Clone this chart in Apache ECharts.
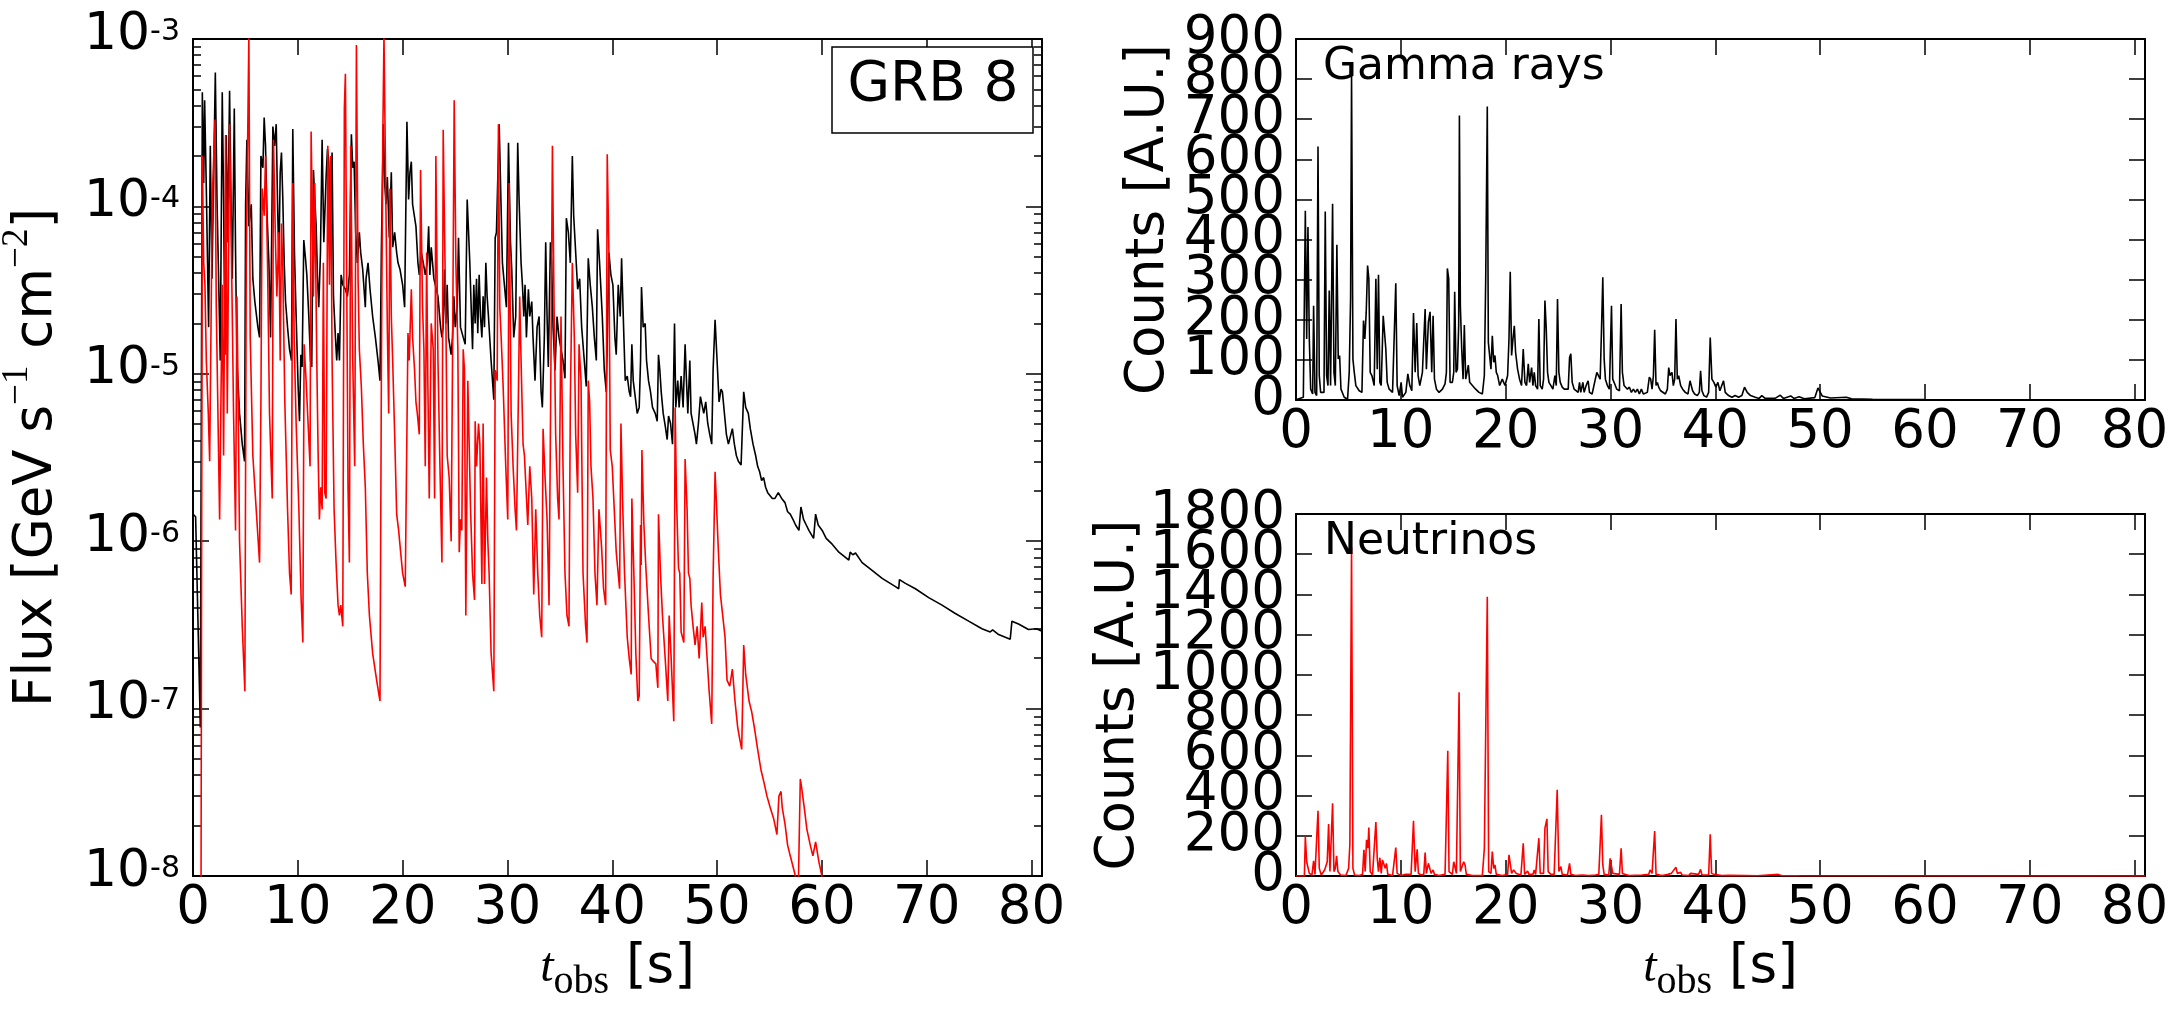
<!DOCTYPE html>
<html>
<head>
<meta charset="utf-8">
<script src="https://cdn.jsdelivr.net/npm/echarts@6/dist/echarts.min.js"></script>
<style>
html, body { margin: 0; padding: 0; background: #fff; }
#main { width: 2181px; height: 1011px; }
</style>
</head>
<body>
<div id="main"></div>
<script>
// flux light curves [t_obs (s), flux (GeV s^-1 cm^-2)]
var fluxGamma = [[0,1.45e-6],[0.25,1.4e-6],[0.70,7.7e-8],[0.89,4.8e-4],[1.02,1.38e-4],[1.11,4.3e-4],[1.27,1.28e-4],[1.49,1.9e-5],[1.65,2.3e-4],[1.81,3.7e-5],[2.13,6.3e-4],[2.29,1.1e-4],[2.48,2.9e-5],[2.60,1.2e-5],[2.79,4.8e-4],[2.92,1.1e-4],[3.05,1.3e-5],[3.17,2.67e-4],[3.30,6.1e-5],[3.49,4.9e-4],[3.62,1.1e-4],[3.75,3.7e-5],[3.94,3.85e-4],[4.06,5.3e-5],[4.19,1.2e-5],[4.44,5.8e-6],[4.70,3.8e-6],[4.92,3.0e-6],[5.02,1.03e-4],[5.14,2.5e-4],[5.33,7.6e-5],[5.56,1.03e-4],[5.71,3.7e-5],[5.90,2.7e-5],[6.19,1.9e-5],[6.35,1.65e-5],[6.48,2.0e-4],[6.67,1.7e-4],[6.79,3.4e-4],[6.92,2.3e-4],[7.05,9.5e-5],[7.24,4.6e-5],[7.40,1.65e-5],[7.62,3.0e-4],[7.78,2.3e-4],[7.94,3.1e-4],[8.06,1.1e-4],[8.19,4.6e-5],[8.32,1.6e-4],[8.44,2.1e-4],[8.57,1.1e-4],[8.70,4.6e-5],[8.83,2.7e-5],[9.02,1.9e-5],[9.21,1.4e-5],[9.40,1.2e-5],[9.52,2.9e-4],[9.68,5.3e-5],[9.84,2.2e-5],[10.03,8.4e-6],[10.16,5.2e-6],[10.29,1.3e-5],[10.41,1.1e-5],[10.57,6.3e-5],[10.73,4.9e-5],[10.86,3.9e-5],[11.05,2.2e-5],[11.21,1.2e-5],[11.33,1.1e-5],[11.49,1.65e-4],[11.62,1.1e-4],[11.75,7.6e-5],[11.87,3.9e-5],[12.00,2.5e-5],[12.16,5.3e-5],[12.32,2.5e-4],[12.48,6.1e-5],[12.70,1.5e-4],[12.83,2.2e-4],[12.95,1.85e-4],[13.11,7.0e-5],[13.27,2.1e-4],[13.40,2.9e-5],[13.59,1.65e-5],[13.71,1.2e-5],[13.84,1.75e-5],[13.97,1.2e-5],[14.13,3.9e-5],[14.29,3.4e-5],[14.54,3.2e-5],[14.73,2.9e-5],[14.92,3.9e-5],[15.11,2.7e-4],[15.24,1.7e-4],[15.37,1.85e-4],[15.52,7.0e-5],[15.68,4.6e-5],[15.87,7.0e-5],[16.00,5.3e-5],[16.19,4.2e-5],[16.44,2.5e-5],[16.51,3.7e-5],[16.70,4.6e-5],[16.89,3.2e-5],[17.14,2.2e-5],[17.40,1.65e-5],[17.65,1.2e-5],[17.84,9.1e-6],[17.97,5.3e-5],[18.16,3.1e-4],[18.29,1.38e-4],[18.41,1.03e-4],[18.54,1.5e-4],[18.73,6.5e-5],[18.92,1.6e-4],[19.05,5.7e-5],[19.24,7.0e-5],[19.43,5.3e-5],[19.56,4.6e-5],[19.75,4.2e-5],[20.00,3.4e-5],[20.19,2.5e-5],[20.41,3.2e-4],[20.57,1.1e-4],[20.70,1.6e-4],[20.83,1.85e-4],[20.95,1.03e-4],[21.27,7.6e-5],[21.46,4.6e-5],[21.59,3.9e-5],[21.78,5.3e-5],[21.97,4.6e-5],[22.16,3.9e-5],[22.35,4.6e-5],[22.48,7.6e-5],[22.60,3.9e-5],[22.73,5.7e-5],[22.98,3.7e-5],[23.37,2.9e-5],[23.62,1.9e-5],[23.75,1.65e-5],[23.87,1.9e-5],[24.00,4.2e-5],[24.13,2.0e-5],[24.25,3.4e-5],[24.38,1.65e-5],[24.63,1.3e-5],[24.76,1.65e-5],[24.89,2.9e-5],[25.02,1.9e-5],[25.21,2.5e-5],[25.33,6.5e-5],[25.52,1.9e-5],[25.78,1.65e-5],[25.97,1.5e-5],[26.16,1.1e-4],[26.29,7.0e-5],[26.41,4.6e-5],[26.54,2.5e-5],[26.67,1.4e-5],[26.79,3.4e-5],[26.92,2.0e-5],[27.05,3.7e-5],[27.17,1.75e-5],[27.30,3.9e-5],[27.43,2.2e-5],[27.56,1.65e-5],[27.68,2.9e-5],[27.81,1.9e-5],[27.94,4.6e-5],[28.06,2.9e-5],[28.19,2.2e-5],[28.44,1.2e-5],[28.70,7.0e-6],[28.83,6.5e-5],[28.95,7.0e-5],[29.21,3.1e-4],[29.40,9.5e-5],[29.52,4.6e-5],[29.71,3.4e-5],[29.90,2.5e-5],[30.10,2.4e-4],[30.29,6.1e-5],[30.41,4.2e-5],[30.60,1.65e-5],[30.79,2.2e-5],[30.98,2.4e-4],[31.11,1.1e-4],[31.30,4.6e-5],[31.43,3.4e-5],[31.56,2.2e-5],[31.68,3.4e-5],[31.81,1.65e-5],[32.00,3.2e-5],[32.13,2.2e-5],[32.32,2.7e-5],[32.44,1.65e-5],[32.63,9.1e-6],[32.83,1.9e-5],[33.02,2.2e-5],[33.21,7.8e-6],[33.33,6.3e-6],[33.52,1.65e-5],[33.65,6.1e-5],[33.78,2.2e-5],[33.90,1.1e-5],[34.10,6.1e-5],[34.22,4.6e-5],[34.35,1.9e-5],[34.54,1.05e-5],[34.73,2.2e-5],[34.92,1.65e-5],[35.30,1.2e-5],[35.49,9.4e-6],[35.62,8.5e-5],[35.81,7.0e-5],[36.00,4.6e-5],[36.19,2.0e-4],[36.32,8.8e-5],[36.51,5.3e-5],[36.70,3.2e-5],[36.89,3.7e-5],[37.08,1.9e-5],[37.33,1.2e-5],[37.52,8.4e-6],[37.71,4.9e-5],[37.90,3.4e-5],[38.10,2.5e-5],[38.29,1.65e-5],[38.48,1.2e-5],[38.60,7.3e-5],[38.79,4.6e-5],[39.05,2.2e-5],[39.24,1.05e-5],[39.43,7.8e-6],[39.68,5.3e-5],[39.87,3.9e-5],[40.06,3.4e-5],[40.25,1.65e-5],[40.38,1.3e-5],[40.57,3.4e-5],[40.76,2.2e-5],[40.89,4.9e-5],[41.11,1.65e-5],[41.24,9.1e-6],[41.43,9.7e-6],[41.62,7.8e-6],[41.75,7.3e-6],[41.87,1.5e-5],[42.00,9.1e-6],[42.19,7.3e-6],[42.38,5.8e-6],[42.57,6.3e-6],[42.70,1.2e-5],[42.79,3.3e-5],[42.95,1.9e-5],[43.14,2.0e-5],[43.27,1.2e-5],[43.46,9.1e-6],[43.65,7.8e-6],[43.84,6.3e-6],[44.10,5.8e-6],[44.29,5.2e-6],[44.41,1.3e-5],[44.54,1.05e-5],[44.67,7.8e-6],[44.86,5.8e-6],[45.05,4.9e-6],[45.24,4.05e-6],[45.37,5.6e-6],[45.56,5.05e-6],[45.75,3.8e-6],[45.94,2.0e-5],[46.06,6.3e-6],[46.25,9.1e-6],[46.38,6.3e-6],[46.57,9.7e-6],[46.76,6.3e-6],[46.95,1.5e-5],[47.08,9.1e-6],[47.21,5.8e-6],[47.40,1.2e-5],[47.52,5.8e-6],[47.71,5.8e-6],[47.90,4.35e-6],[48.03,3.8e-6],[48.22,5.05e-6],[48.41,7.3e-6],[48.60,7.3e-6],[48.73,5.8e-6],[48.92,6.8e-6],[49.11,5.05e-6],[49.30,4.35e-6],[49.49,3.8e-6],[49.62,1.05e-5],[49.81,2.1e-5],[50.00,1.2e-5],[50.19,6.8e-6],[50.38,8.1e-6],[50.51,7.8e-6],[50.70,5.8e-6],[50.89,4.35e-6],[51.08,3.8e-6],[51.27,3.8e-6],[51.46,4.7e-6],[51.65,3.8e-6],[51.84,3.25e-6],[52.03,3.0e-6],[52.29,2.85e-6],[52.54,7.8e-6],[52.73,6.3e-6],[52.98,5.8e-6],[53.17,4.7e-6],[53.43,3.8e-6],[53.68,3.25e-6],[53.87,2.8e-6],[54.06,2.6e-6],[54.25,2.3e-6],[54.44,2.4e-6],[54.63,2.1e-6],[54.83,1.95e-6],[55.02,1.95e-6],[55.27,1.8e-6],[55.52,1.8e-6],[55.84,1.95e-6],[55.97,2.0e-6],[56.16,1.8e-6],[56.48,1.7e-6],[56.73,1.5e-6],[56.98,1.45e-6],[57.24,1.35e-6],[57.49,1.25e-6],[57.81,1.16e-6],[58.00,1.6e-6],[58.25,1.35e-6],[58.51,1.25e-6],[58.76,1.16e-6],[59.21,1.04e-6],[59.40,1.45e-6],[59.65,1.25e-6],[60.03,1.16e-6],[60.41,1.04e-6],[60.98,9.6e-7],[61.62,8.6e-7],[62.25,8.0e-7],[62.57,7.7e-7],[62.70,8.6e-7],[62.95,8.3e-7],[63.21,8.5e-7],[63.84,7.45e-7],[64.79,6.7e-7],[65.75,6.0e-7],[67.02,5.35e-7],[67.33,5.2e-7],[67.40,5.9e-7],[67.97,5.6e-7],[68.92,5.2e-7],[70.19,4.6e-7],[71.46,4.15e-7],[72.73,3.7e-7],[74.00,3.33e-7],[75.27,3.0e-7],[76.06,2.87e-7],[76.29,2.95e-7],[76.86,2.77e-7],[77.97,2.6e-7],[78.13,3.33e-7],[78.76,3.2e-7],[79.71,2.97e-7],[80.48,3.0e-7],[81.00,2.9e-7]];

var fluxNeutrino = [[0,1e-9],[0.76,5e-9],[0.89,2.0e-4],[1.02,4.6e-5],[1.14,3.4e-5],[1.27,1.2e-5],[1.46,5.8e-6],[1.59,3.0e-6],[1.84,1.1e-4],[2.10,3.3e-4],[2.22,2.5e-5],[2.54,1.35e-6],[2.79,3.4e-5],[2.92,3.25e-6],[3.11,2.67e-4],[3.27,5.8e-6],[3.49,3.1e-4],[3.68,4.6e-5],[3.87,5.8e-6],[4.06,1.16e-6],[4.19,2.9e-5],[4.32,5.8e-6],[4.44,1.0e-6],[4.70,3.1e-7],[4.95,1.27e-7],[5.08,4.6e-5],[5.33,1.05e-3],[5.46,1.65e-5],[5.71,3.25e-6],[6.03,1.55e-6],[6.35,7.45e-7],[6.48,6.8e-6],[6.60,1.28e-4],[6.79,8.8e-5],[6.92,2.0e-4],[7.11,4.6e-5],[7.30,5.8e-6],[7.56,1.8e-6],[7.68,2.5e-4],[7.87,6.1e-5],[8.00,2.9e-5],[8.19,7.0e-5],[8.32,1.2e-5],[8.44,7.9e-5],[8.57,4.2e-5],[8.76,6.8e-6],[9.02,1.55e-6],[9.21,6.45e-7],[9.37,4.8e-7],[9.52,1.38e-4],[9.65,1.65e-5],[9.84,5.05e-6],[10.10,1.55e-6],[10.32,4.45e-7],[10.48,2.48e-7],[10.60,1.5e-5],[10.79,9.1e-6],[10.98,5.05e-6],[11.17,2.8e-6],[11.27,2.8e-4],[11.49,2.9e-5],[11.62,1.38e-4],[11.81,1.2e-5],[11.94,3.25e-6],[12.06,1.35e-6],[12.19,2.1e-6],[12.32,1.55e-6],[12.44,4.6e-5],[12.57,1.95e-6],[12.70,1.8e-6],[12.86,2.3e-4],[13.02,3.4e-5],[13.14,2.0e-4],[13.27,1.2e-5],[13.46,1.55e-6],[13.65,7.45e-7],[13.84,4.15e-7],[13.97,3.6e-7],[14.10,4.15e-7],[14.29,3.1e-7],[14.44,3.85e-4],[14.54,6.2e-4],[14.67,3.4e-5],[14.79,2.1e-6],[14.92,7.45e-7],[15.05,2.3e-4],[15.24,1.2e-5],[15.43,2.8e-6],[15.59,9.2e-4],[15.75,3.7e-5],[15.87,1.4e-5],[16.06,8.4e-6],[16.25,3.8e-6],[16.44,2.1e-6],[16.63,6.45e-7],[16.83,3.6e-7],[17.14,2.14e-7],[17.52,1.48e-7],[17.84,1.11e-7],[17.97,9.1e-6],[18.10,2.3e-4],[18.22,1.05e-3],[18.41,9.5e-5],[18.54,1.9e-5],[18.67,5.8e-6],[18.79,1.28e-4],[18.92,2.2e-5],[19.05,1.2e-5],[19.24,4.35e-6],[19.43,1.45e-6],[19.62,1.16e-6],[19.81,8.6e-7],[20.00,6.45e-7],[20.25,5.35e-7],[20.51,1.75e-5],[20.63,1.2e-5],[20.83,3.2e-5],[20.95,1.65e-5],[21.14,1.05e-5],[21.27,6.8e-6],[21.40,5.8e-6],[21.59,4.35e-6],[21.71,1.65e-4],[21.90,2.5e-5],[22.03,1.4e-5],[22.16,2.8e-6],[22.29,5.3e-5],[22.41,8.4e-6],[22.54,1.8e-6],[22.73,2.0e-5],[22.92,1.4e-5],[23.05,1.8e-6],[23.17,2.0e-4],[23.37,1.2e-5],[23.56,2.8e-6],[23.75,7.45e-7],[23.87,2.87e-4],[24.00,7.0e-5],[24.13,2.0e-5],[24.25,3.25e-6],[24.44,2.4e-6],[24.63,1.0e-6],[24.76,1.2e-5],[24.92,4.3e-4],[25.08,4.6e-5],[25.27,1.4e-5],[25.40,8.6e-7],[25.52,1.35e-6],[25.65,1.16e-6],[25.78,1.4e-5],[25.90,1.05e-5],[26.03,3.6e-7],[26.22,9.1e-6],[26.48,1.55e-6],[26.67,6.45e-7],[26.86,4.45e-7],[26.92,5.2e-6],[27.05,2.8e-6],[27.24,5.05e-6],[27.37,3.8e-6],[27.56,5.55e-7],[27.68,5.05e-6],[27.81,5.55e-7],[28.00,2.4e-6],[28.13,1.0e-6],[28.25,6.45e-7],[28.44,2.14e-7],[28.70,1.27e-7],[28.83,1.05e-5],[29.02,9.1e-6],[29.14,3.1e-4],[29.27,2.5e-5],[29.40,1.65e-5],[29.59,8.4e-6],[29.84,2.8e-6],[30.03,1.35e-6],[30.16,1.38e-4],[30.35,5.8e-6],[30.54,2.8e-6],[30.73,1.55e-6],[30.86,1.16e-6],[31.05,7.8e-6],[31.17,2.9e-5],[31.30,1.2e-5],[31.49,3.8e-6],[31.62,3.25e-6],[31.75,3.25e-6],[31.94,1.25e-6],[32.13,2.8e-6],[32.32,1.8e-6],[32.51,4.8e-7],[32.70,1.55e-6],[32.89,6.45e-7],[33.08,3.6e-7],[33.27,2.67e-7],[33.40,4.7e-6],[33.59,2.4e-6],[33.78,1.35e-6],[33.97,4.15e-7],[34.16,1.4e-5],[34.29,2.3e-4],[34.48,1.65e-5],[34.60,4.35e-6],[34.79,1.8e-6],[34.92,1.35e-6],[35.11,2.2e-5],[35.30,2.8e-6],[35.49,6.45e-7],[35.68,3.6e-7],[35.87,3.1e-7],[36.00,6.8e-6],[36.19,4.6e-5],[36.38,1.65e-5],[36.51,4.35e-6],[36.70,1.95e-6],[36.83,1.5e-5],[37.02,9.1e-6],[37.21,6.45e-7],[37.46,3.1e-7],[37.59,2.48e-7],[37.71,9.1e-6],[37.84,6.8e-6],[37.97,2.8e-6],[38.16,1.8e-6],[38.35,6.45e-7],[38.54,4.15e-7],[38.73,1.55e-6],[38.98,9.3e-7],[39.17,5.2e-7],[39.37,4.15e-7],[39.52,2.05e-4],[39.68,5.3e-5],[39.81,3.5e-6],[40.00,2.8e-6],[40.19,1.55e-6],[40.38,8.6e-7],[40.57,8.6e-7],[40.70,5.2e-7],[40.83,5.05e-6],[40.98,1.8e-6],[41.17,6.45e-7],[41.43,2.67e-7],[41.62,1.99e-7],[41.81,1.6e-7],[41.87,1.8e-6],[42.06,6.45e-7],[42.25,2.14e-7],[42.44,1.11e-7],[42.57,1.19e-7],[42.70,1.25e-6],[42.76,7.2e-7],[42.83,3.5e-6],[43.02,1.25e-6],[43.21,6.9e-7],[43.46,3.6e-7],[43.71,1.99e-7],[43.90,1.92e-7],[44.16,1.85e-7],[44.35,1.33e-7],[44.41,1.45e-6],[44.60,6.45e-7],[44.79,3.6e-7],[45.05,1.99e-7],[45.30,1.11e-7],[45.43,3.6e-7],[45.62,1.99e-7],[45.87,8.4e-8],[46.00,6.3e-6],[46.13,1.8e-6],[46.32,6.9e-7],[46.44,6.45e-7],[46.57,2.87e-7],[46.83,2.48e-7],[46.95,3.1e-6],[47.14,1.55e-6],[47.27,6.45e-7],[47.40,6.0e-7],[47.52,4.15e-7],[47.71,3.1e-7],[47.90,2.4e-7],[48.10,3.1e-7],[48.29,1.99e-7],[48.54,4.3e-7],[48.67,2.67e-7],[48.86,3.1e-7],[49.05,1.99e-7],[49.24,1.28e-7],[49.49,8.1e-8],[49.62,6.0e-7],[49.81,2.6e-6],[49.94,1.68e-6],[50.13,8.6e-7],[50.32,4.8e-7],[50.51,4.8e-7],[50.76,2.67e-7],[50.95,1.48e-7],[51.21,1.36e-7],[51.46,1.72e-7],[51.71,1.11e-7],[51.97,7.7e-8],[52.16,6.6e-8],[52.35,5.7e-8],[52.54,2.4e-7],[52.73,1.6e-7],[52.92,1.6e-7],[53.05,1.11e-7],[53.30,9.6e-8],[53.56,7.7e-8],[53.87,5.7e-8],[54.19,4.3e-8],[54.44,3.7e-8],[54.76,3.0e-8],[55.08,2.55e-8],[55.40,2.2e-8],[55.71,1.77e-8],[55.90,3.0e-8],[56.10,3.2e-8],[56.22,2.55e-8],[56.48,2.05e-8],[56.73,1.53e-8],[56.98,1.32e-8],[57.37,1.06e-8],[57.75,8.5e-9],[57.94,3.8e-8],[58.06,3.4e-8],[58.32,2.55e-8],[58.57,1.9e-8],[58.89,1.53e-8],[59.14,1.32e-8],[59.40,1.6e-8],[59.71,1.22e-8],[60.03,9.8e-9],[60.67,7e-9]];

// binned counts [t_obs (s), counts (A.U.)]
var countsGamma = [[0,0.5],[0.70,7],[0.89,472],[1.02,152],[1.14,431],[1.27,152],[1.40,27],[1.59,15],[1.68,235],[1.81,19],[1.97,11],[2.10,632],[2.22,61],[2.35,19],[2.54,15],[2.67,19],[2.79,470],[2.92,61],[3.05,36],[3.17,273],[3.30,36],[3.49,489],[3.62,69],[3.75,36],[3.90,387],[4.03,102],[4.16,111],[4.29,27],[4.60,7],[4.92,2],[5.08,69],[5.21,256],[5.30,810],[5.43,102],[5.56,69],[5.71,36],[6.03,23],[6.29,19],[6.44,198],[6.57,152],[6.70,219],[6.83,335],[6.95,302],[7.08,69],[7.24,61],[7.46,36],[7.62,302],[7.75,77],[7.87,312],[8.00,44],[8.13,36],[8.32,210],[8.44,212],[8.57,127],[8.70,44],[8.89,27],[9.21,19],[9.40,19],[9.52,291],[9.65,36],[9.84,11],[10.03,44],[10.16,7],[10.48,19],[10.67,65],[10.86,36],[11.05,23],[11.21,217],[11.37,69],[11.52,192],[11.65,61],[11.81,36],[12.06,69],[12.32,227],[12.44,77],[12.63,194],[12.79,220],[12.95,69],[13.08,210],[13.21,52],[13.40,27],[13.65,19],[13.97,27],[14.22,40],[14.35,69],[14.44,328],[14.57,302],[14.70,44],[14.92,44],[15.05,69],[15.14,270],[15.27,69],[15.40,77],[15.52,185],[15.59,709],[15.68,235],[15.81,127],[15.94,52],[16.06,187],[16.19,52],[16.32,69],[16.44,87],[16.57,44],[16.83,36],[17.14,27],[17.46,19],[17.78,15],[17.97,61],[18.10,302],[18.25,732],[18.35,144],[18.48,140],[18.60,77],[18.73,160],[18.86,94],[18.98,111],[19.11,69],[19.24,61],[19.43,36],[19.68,52],[19.94,36],[20.19,61],[20.32,152],[20.44,320],[20.57,111],[20.70,152],[20.83,185],[20.95,119],[21.14,77],[21.33,52],[21.52,36],[21.68,127],[21.84,44],[22.00,36],[22.16,90],[22.29,44],[22.48,81],[22.60,36],[22.73,69],[22.86,36],[23.05,27],[23.17,202],[23.30,36],[23.49,27],[23.62,52],[23.75,248],[23.87,181],[24.00,69],[24.13,44],[24.32,36],[24.51,27],[24.70,61],[24.83,36],[24.95,252],[25.08,69],[25.21,44],[25.40,32],[25.59,27],[25.78,27],[25.97,27],[26.10,106],[26.22,115],[26.35,44],[26.54,27],[26.73,23],[26.92,19],[27.05,44],[27.17,19],[27.37,44],[27.49,19],[27.68,36],[27.87,48],[28.00,19],[28.25,15],[28.44,19],[28.70,69],[28.89,69],[29.02,52],[29.14,169],[29.27,306],[29.40,102],[29.52,52],[29.71,36],[29.90,27],[30.10,235],[30.22,52],[30.41,40],[30.60,27],[30.86,23],[31.02,239],[31.14,69],[31.30,36],[31.49,32],[31.62,27],[31.81,32],[32.00,19],[32.19,27],[32.38,19],[32.57,27],[32.76,15],[32.95,27],[33.14,15],[33.33,11],[33.52,19],[33.71,57],[33.84,52],[33.97,27],[34.10,61],[34.22,175],[34.35,36],[34.48,44],[34.60,32],[34.79,23],[34.98,19],[35.24,15],[35.43,27],[35.56,81],[35.68,61],[35.87,69],[36.00,36],[36.13,52],[36.25,202],[36.38,52],[36.51,61],[36.70,36],[36.89,27],[37.14,19],[37.40,15],[37.59,48],[37.71,44],[37.84,23],[38.03,15],[38.29,11],[38.48,19],[38.60,73],[38.73,23],[38.92,11],[39.17,7],[39.37,19],[39.52,156],[39.68,52],[39.87,44],[40.06,32],[40.25,44],[40.44,23],[40.63,27],[40.79,48],[40.95,19],[41.27,11],[41.59,7],[41.90,11],[42.22,7],[42.54,11],[42.79,32],[43.05,19],[43.37,11],[43.81,7],[44.19,4],[44.44,11],[44.76,4],[45.71,4],[46.20,12],[46.50,4],[47.20,10],[47.50,4],[48.00,8],[48.50,3],[49.50,6],[49.80,30],[50.20,10],[51.00,5],[52.50,7],[53.00,3],[55.00,2],[60.00,1],[70.00,0.5],[81.00,0.3]];

var countsNeutrino = [[0,0],[0.80,0],[0.89,196],[1.02,71],[1.27,13],[1.52,5],[1.68,75],[1.81,8],[1.97,5],[2.10,324],[2.22,38],[2.41,5],[2.73,30],[2.86,22],[2.98,71],[3.11,258],[3.24,22],[3.37,13],[3.49,362],[3.62,22],[3.75,38],[3.87,100],[4.00,22],[4.13,30],[4.25,5],[4.76,2],[5.02,38],[5.14,158],[5.24,155],[5.30,1634],[5.43,38],[5.59,5],[6.03,2],[6.35,8],[6.48,130],[6.60,22],[6.73,180],[6.86,138],[6.95,241],[7.08,22],[7.30,5],[7.49,13],[7.62,268],[7.75,88],[7.87,22],[8.00,91],[8.13,13],[8.25,80],[8.38,71],[8.51,38],[8.63,63],[8.76,8],[9.21,2],[9.40,8],[9.52,141],[9.65,13],[10.03,2],[10.48,8],[10.67,13],[10.98,8],[11.21,274],[11.37,22],[11.56,133],[11.68,13],[11.94,5],[12.19,8],[12.32,116],[12.44,13],[12.63,63],[12.76,55],[12.89,13],[13.08,30],[13.21,8],[13.65,2],[14.22,8],[14.38,374],[14.48,623],[14.60,22],[14.92,8],[15.05,71],[15.17,71],[15.30,13],[15.43,8],[15.56,914],[15.68,22],[15.87,13],[16.00,71],[16.13,55],[16.25,8],[16.83,2],[17.78,2],[17.97,138],[18.10,141],[18.25,1388],[18.38,22],[18.60,13],[18.73,121],[18.86,38],[18.98,55],[19.11,8],[19.68,2],[20.19,8],[20.32,105],[20.44,108],[20.57,13],[20.76,30],[21.02,13],[21.46,5],[21.68,163],[21.81,8],[22.10,25],[22.22,8],[22.60,8],[22.73,30],[22.86,8],[23.05,8],[23.17,188],[23.30,13],[23.62,13],[23.75,238],[23.81,238],[23.94,284],[24.06,22],[24.32,8],[24.63,8],[24.76,13],[24.92,429],[25.08,22],[25.27,47],[25.40,8],[25.90,5],[26.10,63],[26.22,8],[26.67,2],[27.30,5],[27.94,2],[28.57,5],[28.89,8],[29.02,13],[29.14,304],[29.27,55],[29.40,8],[29.84,5],[29.97,88],[30.10,91],[30.22,13],[30.86,8],[31.02,138],[31.14,13],[31.75,2],[33.02,5],[33.65,8],[33.78,30],[33.97,13],[34.10,8],[34.22,224],[34.35,8],[34.92,2],[35.49,8],[35.68,17],[35.81,13],[36.00,8],[36.25,43],[36.38,13],[36.51,8],[36.70,18],[36.83,5],[37.46,2],[37.65,13],[37.78,5],[38.41,8],[38.60,33],[38.73,5],[39.37,5],[39.52,208],[39.65,13],[39.87,8],[40.63,2],[41.27,3],[42.86,2],[44.00,1],[46.00,8],[46.30,2],[48.00,1],[81.00,0]];

// tick labels of the count axes, split in two interleaved sets
var gammaTicksA = [0, 200, 400, 600, 800];
var gammaTicksB = [100, 300, 500, 700, 900];
var neutrinoTicksA = [0, 400, 800, 1200, 1600];
var neutrinoTicksB = [200, 600, 1000, 1400, 1800];

var FONT = 'DejaVu Sans';

// minor ticks of the log axis, in decades
var minorLog = [];
for (var e = -8; e < -3; e++) {
    for (var k = 2; k < 10; k++) minorLog.push(e + Math.log10(k));
}

function timeAxis(grid, pos, showLabel, name) {
    return {
        type: 'value', gridIndex: grid, position: pos,
        min: 0, max: 81, interval: 10,
        axisLine: { show: true, onZero: false, lineStyle: { color: '#000', width: 2 } },
        axisTick: { show: true, inside: true, length: 16, lineStyle: { color: '#000', width: 1.5 } },
        axisLabel: {
            show: showLabel, showMinLabel: true, showMaxLabel: false, hideOverlap: false,
            margin: 7, color: '#000', fontFamily: FONT, fontSize: 53,
            formatter: function (v) { return String(v); }
        },
        splitLine: { show: false },
        name: name || '',
        nameLocation: 'middle',
        nameGap: 58,
        nameMoveOverlap: false,
        nameTextStyle: {
            color: '#000',
            rich: {
                t: { fontFamily: 'Liberation Serif', fontStyle: 'italic', fontSize: 48, color: '#000' },
                o: { fontFamily: 'Liberation Serif', fontSize: 40, padding: [28, 0, 0, 0], color: '#000' },
                s: { fontFamily: FONT, fontSize: 53, color: '#000' }
            }
        }
    };
}

// kind: 'main' (line, ticks, labels A, name), 'right' (line and ticks), 'extra' (labels B only)
function countAxis(grid, pos, max, step, kind, labels, gap) {
    var isMain = kind === 'main';
    var isExtra = kind === 'extra';
    return {
        type: 'value', gridIndex: grid, position: pos,
        min: 0, max: max, interval: step,
        axisLine: { show: !isExtra, onZero: false, lineStyle: { color: '#000', width: 2 } },
        axisTick: { show: !isExtra, inside: true, length: 16, lineStyle: { color: '#000', width: 1.5 } },
        axisLabel: {
            show: kind !== 'right', customValues: labels,
            showMinLabel: true, showMaxLabel: true, hideOverlap: false,
            margin: 11, color: '#000', fontFamily: FONT, fontSize: 53,
            formatter: function (v) { return String(v); }
        },
        splitLine: { show: false },
        name: isMain ? 'Counts [A.U.]' : '',
        nameLocation: 'middle',
        nameRotate: 90,
        nameGap: gap || 0,
        nameMoveOverlap: false,
        nameTextStyle: { color: '#000', fontFamily: FONT, fontSize: 53 }
    };
}

function minorAxis(pos) {
    return {
        type: 'value', gridIndex: 0, position: pos,
        min: -8, max: -3,
        axisLine: { show: false, onZero: false },
        axisTick: { show: true, inside: true, length: 8, customValues: minorLog, lineStyle: { color: '#000', width: 1.5 } },
        axisLabel: { show: false },
        splitLine: { show: false }
    };
}

function fluxAxis(pos, showLabel) {
    return {
        type: 'log', gridIndex: 0, position: pos, logBase: 10,
        min: 1e-8, max: 1e-3, splitNumber: 5,
        axisLine: { show: true, onZero: false, lineStyle: { color: '#000', width: 2 } },
        axisTick: { show: true, inside: true, length: 16, lineStyle: { color: '#000', width: 1.5 } },
        axisLabel: {
            show: showLabel, showMinLabel: true, showMaxLabel: true, hideOverlap: false,
            margin: 13, color: '#000',
            formatter: function (v) {
                return '{a|10}{b|' + Math.round(Math.log10(v)) + '}';
            },
            rich: {
                a: { fontFamily: FONT, fontSize: 52, color: '#000', verticalAlign: 'top', padding: [0, 0, 8, 0] },
                b: { fontFamily: FONT, fontSize: 30, color: '#000', verticalAlign: 'top', padding: [8, 0, 0, 0] }
            }
        },
        splitLine: { show: false },
        name: showLabel ? '{m|Flux [GeV s}{p|\u22121}{m| cm}{p|\u22122}{m|]}' : '',
        nameLocation: 'middle',
        nameRotate: 90,
        nameGap: 117,
        nameMoveOverlap: false,
        nameTextStyle: {
            color: '#000',
            rich: {
                m: { fontFamily: FONT, fontSize: 53, color: '#000' },
                p: { fontFamily: 'Liberation Serif', fontSize: 37, color: '#000', padding: [0, 0, 40, 0] }
            }
        }
    };
}

var myChart = echarts.init(document.getElementById('main'), null, { renderer: 'canvas' });

var option = {
    backgroundColor: '#fff',
    animation: false,
    grid: [
        { left: 193, top: 39, width: 849, height: 837, containLabel: false, outerBoundsMode: 'none' },
        { left: 1296, top: 39, width: 849, height: 361, containLabel: false, outerBoundsMode: 'none' },
        { left: 1296, top: 514, width: 849, height: 362, containLabel: false, outerBoundsMode: 'none' }
    ],
    xAxis: [
        timeAxis(0, 'bottom', true, '{t|t}{o|obs}{s| [s]}'),
        timeAxis(0, 'top', false),
        timeAxis(1, 'bottom', true),
        timeAxis(1, 'top', false),
        timeAxis(2, 'bottom', true, '{t|t}{o|obs}{s| [s]}'),
        timeAxis(2, 'top', false)
    ],
    yAxis: [
        fluxAxis('left', true),
        fluxAxis('right', false),
        minorAxis('left'),
        minorAxis('right'),
        countAxis(1, 'left', 900, 100, 'main', gammaTicksA, 120),
        countAxis(1, 'right', 900, 100, 'right'),
        countAxis(1, 'left', 900, 100, 'extra', gammaTicksB),
        countAxis(2, 'left', 1800, 200, 'main', neutrinoTicksA, 150),
        countAxis(2, 'right', 1800, 200, 'right'),
        countAxis(2, 'left', 1800, 200, 'extra', neutrinoTicksB)
    ],
    graphic: [
        {
            type: 'rect', z: 100,
            shape: { x: 832, y: 47, width: 201, height: 86 },
            style: { fill: '#fff', stroke: '#000', lineWidth: 1.5 }
        },
        {
            type: 'text', z: 101, x: 933, y: 86,
            style: { text: 'GRB 8', font: '55px "DejaVu Sans"', fill: '#000', align: 'center', verticalAlign: 'middle' }
        },
        {
            type: 'text', z: 101, x: 1323, y: 46,
            style: { text: 'Gamma rays', font: '44px "DejaVu Sans"', fill: '#000', align: 'left', verticalAlign: 'top' }
        },
        {
            type: 'text', z: 101, x: 1324, y: 521,
            style: { text: 'Neutrinos', font: '44px "DejaVu Sans"', fill: '#000', align: 'left', verticalAlign: 'top' }
        }
    ],
    series: [
        {
            name: 'gamma flux', type: 'line', xAxisIndex: 0, yAxisIndex: 0,
            data: fluxGamma, symbol: 'none', clip: true, z: 2,
            lineStyle: { color: '#000', width: 1.6 }
        },
        {
            name: 'neutrino flux', type: 'line', xAxisIndex: 0, yAxisIndex: 0,
            data: fluxNeutrino, symbol: 'none', clip: true, z: 3,
            lineStyle: { color: '#ff0000', width: 1.6 }
        },
        {
            name: 'gamma counts', type: 'line', xAxisIndex: 2, yAxisIndex: 4,
            data: countsGamma, symbol: 'none', clip: true,
            lineStyle: { color: '#000', width: 1.6 }
        },
        {
            name: 'neutrino counts', type: 'line', xAxisIndex: 4, yAxisIndex: 7,
            data: countsNeutrino, symbol: 'none', clip: true,
            lineStyle: { color: '#ff0000', width: 1.6 }
        }
    ]
};
myChart.setOption(option);
window.onresize = myChart.resize;
</script>
</body>
</html>
